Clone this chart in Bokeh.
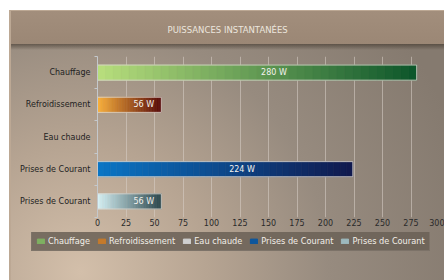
import numpy as np
from bokeh.plotting import figure
from bokeh.layouts import column
from bokeh.models import ColumnDataSource, Range1d, FixedTicker, Legend, LegendItem
from bokeh.core.properties import value
from bokeh.embed import file_html
from bokeh.resources import INLINE

# ---- data ----
TITLE = "PUISSANCES INSTANTANÉES"
CATEGORIES = ["Chauffage", "Refroidissement", "Eau chaude", "Prises de Courant", "Prises de Courant"]
VALUES = [280, 56, 0, 224, 56]
UNIT = "W"
X_TICKS = list(range(0, 301, 25))
SHOWN = [True, True, False, True, True]

# ---- styles ----
START_COLORS = ["#b9df7d", "#fbb33d", "#d0d0d0", "#0a76c6", "#d8f3f7"]
END_COLORS = ["#0b552a", "#580a0a", "#d0d0d0", "#10184c", "#2a474d"]
FONT = "DejaVu Sans"
N_STEPS = 40
BAR_H = 0.47


def hex2rgb(h):
    h = h.lstrip("#")
    return np.array([int(h[i:i + 2], 16) for i in (0, 2, 4)], dtype=float)


def lerp_hex(a, b, t):
    c = hex2rgb(a) * (1 - t) + hex2rgb(b) * t
    return "#%02x%02x%02x" % tuple(int(round(v)) for v in c)


bg = ("linear-gradient(#ffffff,#ffffff) 0 0/100% 10px no-repeat,"
      "linear-gradient(#ffffff,#ffffff) 0 0/9px 100% no-repeat,"
      "linear-gradient(#bca894,#bca894) 9px 10px/100% 1px no-repeat,"
      "linear-gradient(#bca894,#bca894) 9px 10px/2px 100% no-repeat,"
      "linear-gradient(to bottom,#a28e7c,#9b8775) 11px 11px/100% 33px no-repeat,"
      "linear-gradient(to bottom,rgba(55,45,35,0.55),rgba(55,45,35,0)) 11px 44px/100% 6px no-repeat,"
      "radial-gradient(circle 400px at 80px 272px,#d3bfaa 0%,#b6a492 32%,#978b7f 62%,#857a6f 100%)")

p = figure(width=444, height=232,
           x_range=Range1d(0, 300), y_range=Range1d(4.5, -0.5),
           output_backend="svg", toolbar_location=None,
           min_border_left=97, min_border_right=5, min_border_top=56, min_border_bottom=15)
p.border_fill_alpha = 0
p.background_fill_alpha = 0
p.outline_line_color = None
p.frame_align = False

p.title.text = TITLE
p.title.align = "left"
p.title.offset = 70
p.title.text_font = FONT
p.title.text_font_size = "8.5px"
p.title.text_font_style = "normal"
p.title.text_color = "#ece6de"
p.title.standoff = 44

sources = []
for i, (cat, v) in enumerate(zip(CATEGORIES, VALUES)):
    if v and v > 0:
        k = np.arange(N_STEPS)
        lefts = v * k / N_STEPS
        rights = v * (k + 1) / N_STEPS
        cols = [lerp_hex(START_COLORS[i], END_COLORS[i], t) for t in (k + 0.5) / N_STEPS]
        src = ColumnDataSource(dict(y=[i] * N_STEPS, left=lefts, right=rights, color=cols))
        p.hbar(y="y", left="left", right="right", height=BAR_H, fill_color="color",
               line_color="color", line_width=0.6, source=src)
        p.hbar(y=[i], left=[0], right=[v], height=BAR_H, fill_alpha=0,
               line_color="#dcd6ce", line_alpha=0.85, line_width=1)
    else:
        src = ColumnDataSource(dict(y=[i], left=[0], right=[0], color=[START_COLORS[i]]))
    sources.append(src)

lab_x = [v / 2 for v in VALUES if v]
lab_y = [i for i, v in enumerate(VALUES) if v]
lab_t = [f"{v} {UNIT}" for v in VALUES if v]
p.text(x=lab_x, y=lab_y, text=lab_t, x_offset=4, text_align="left", text_baseline="middle",
       text_font=value(FONT), text_font_size="8px", text_color="#f4f2ee")

# axes
p.xaxis.ticker = FixedTicker(ticks=X_TICKS)
p.xaxis.axis_line_color = None
p.xaxis.major_tick_in = 0
p.xaxis.major_tick_out = 0
p.xaxis.minor_tick_line_color = None
p.xaxis.major_label_text_font = FONT
p.xaxis.major_label_text_font_size = "8px"
p.xaxis.major_label_text_color = "#2a2a2a"
p.xaxis.major_label_standoff = 1

p.yaxis.ticker = FixedTicker(ticks=list(range(len(CATEGORIES))),
                             minor_ticks=[i - 0.5 for i in range(len(CATEGORIES) + 1)])
p.yaxis.major_label_overrides = {i: c for i, c in enumerate(CATEGORIES)}
p.yaxis.major_tick_in = 0
p.yaxis.major_tick_out = 0
p.yaxis.minor_tick_in = 0
p.yaxis.minor_tick_out = 3
p.yaxis.minor_tick_line_color = "#c4c8cc"
p.yaxis.axis_line_color = "#c4c8cc"
p.yaxis.major_label_text_font = FONT
p.yaxis.major_label_text_font_size = "8px"
p.yaxis.major_label_text_color = "#222222"
p.yaxis.major_label_standoff = 4

p.xgrid.ticker = FixedTicker(ticks=X_TICKS)
p.xgrid.grid_line_color = "#d8d0c8"
p.xgrid.grid_line_alpha = 0.55
p.ygrid.visible = False

# legend strip (separate figure, same data sources)
p2 = figure(width=444, height=48, x_range=Range1d(0, 1), y_range=Range1d(100, 101),
            x_axis_type=None, y_axis_type=None, output_backend="svg", toolbar_location=None,
            min_border=0)
p2.border_fill_alpha = 0
p2.background_fill_alpha = 0
p2.outline_line_color = None
p2.grid.visible = False
p2.frame_align = False

items = []
for i, (cat, src) in enumerate(zip(CATEGORIES, sources)):
    r = p2.hbar(y="y", left="left", right="right", height=BAR_H, fill_color="color",
                line_color="color", source=src)
    r.visible = SHOWN[i]
    idx = N_STEPS // 3 if VALUES[i] else 0
    items.append(LegendItem(label=cat, renderers=[r], index=idx))

legend = Legend(items=items, orientation="horizontal", location=(31, 29),
                background_fill_color="#6a6056", background_fill_alpha=0.85,
                border_line_color="#80766c", border_line_alpha=0.8,
                label_text_font=FONT, label_text_font_size="8.2px", label_text_color="#f2eee8",
                glyph_width=9, glyph_height=6, label_standoff=3, spacing=7,
                padding=4, margin=0, label_height=10,
                inactive_fill_color="#6a6056", inactive_fill_alpha=0.45)
p2.add_layout(legend, "center")

lay = column(p, p2, spacing=0, styles={"background": bg})
open("out.html", "w").write(file_html(lay, INLINE))
